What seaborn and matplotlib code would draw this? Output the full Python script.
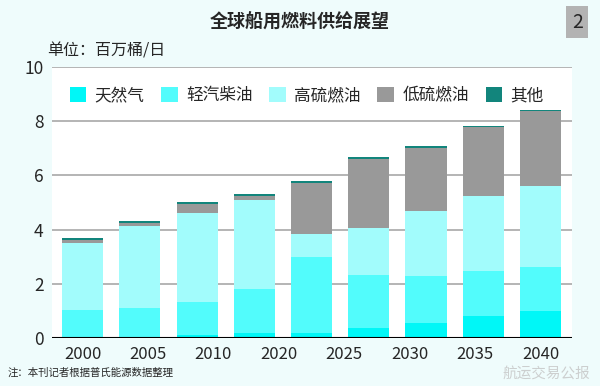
import numpy as np
import pandas as pd
import seaborn as sns
import matplotlib.pyplot as plt
from matplotlib.patches import Patch

# 9 bars in the source chart, 8 year labels spread evenly under them
bar_ids = list(range(9))
year_labels = ["2000", "2005", "2010", "2020", "2025", "2030", "2035", "2040"]

series = ["天然气", "轻汽柴油", "高硫燃油", "低硫燃油", "其他"]
lng = [0.0, 0.03, 0.12, 0.17, 0.18, 0.35, 0.54, 0.80, 0.98]
diesel = [1.02, 1.07, 1.19, 1.64, 2.82, 1.98, 1.74, 1.66, 1.65]
hsfo = [2.49, 3.05, 3.32, 3.27, 0.84, 1.72, 2.42, 2.78, 2.98]
lsfo = [0.10, 0.10, 0.32, 0.16, 1.89, 2.56, 2.30, 2.53, 2.75]
other = [0.07, 0.06, 0.07, 0.07, 0.07, 0.07, 0.07, 0.07, 0.07]
colors = ["#00f7f7", "#52fcfc", "#a2fcfc", "#999999", "#12857c"]

df = pd.DataFrame({"bar": bar_ids, "天然气": lng, "轻汽柴油": diesel,
                   "高硫燃油": hsfo, "低硫燃油": lsfo, "其他": other})
cum = df[series].cumsum(axis=1)

sns.set_style("white")
plt.rcParams['font.family'] = ['Noto Sans CJK SC', 'DejaVu Sans']

fig = plt.figure(figsize=(6, 3.86), dpi=100, facecolor="#effcfc")
ax = fig.add_axes([0.0867, 0.1244, 0.8667, 0.702])
ax.set_facecolor("white")

# stacked bars: draw cumulative totals from top layer down
for name, col in reversed(list(zip(series, colors))):
    sns.barplot(x=df["bar"], y=cum[name], color=col, width=0.72,
                saturation=1, linewidth=0, ax=ax, zorder=3)

ax.set_ylim(0, 10)
ax.set_xlim(-0.535, 8.55)
ax.set_yticks([0, 2, 4, 6, 8, 10])
ax.set_yticklabels(["0", "2", "4", "6", "8", "10"], fontsize=12.5)
ax.set_xticks(np.linspace(0, 8, len(year_labels)))
ax.set_xticklabels(year_labels, fontsize=12)
ax.set_xlabel("")
ax.set_ylabel("")
ax.tick_params(length=0, pad=6)
for y in [2, 4, 6, 8, 10]:
    ax.axhline(y, color="#a8a8a8", lw=1.2, zorder=1)
ax.axhline(0, color="black", lw=1.5, zorder=4)
sns.despine(ax=ax, left=True, bottom=True, right=True, top=True)

handles = [Patch(facecolor=c, edgecolor="none") for c in colors]
ax.legend(handles, series, loc="center left", bbox_to_anchor=(0.005, 0.895),
          ncol=5, frameon=False, fontsize=12, handlelength=1.0,
          handleheight=1.0, handletextpad=0.5, columnspacing=1.0)

fig.text(0.5, 0.943, "全球船用燃料供给展望", ha="center", va="center",
         fontsize=13, fontweight="bold")
fig.text(0.078, 0.868, "单位：百万桶/日", ha="left", va="center", fontsize=11.5)
fig.text(0.962, 0.943, "2", ha="center", va="center", fontsize=14,
         bbox=dict(boxstyle="square,pad=0.3", facecolor="#b3b3b3", edgecolor="none"))
fig.text(0.012, 0.035, "注：本刊记者根据普氏能源数据整理", ha="left", va="center",
         fontsize=7.5)
# faint watermark, lowered to sit just under the year labels
fig.text(0.91, 0.032, "航运交易公报", ha="center", va="center", fontsize=10.5,
         color="#c4c4c4", alpha=0.8)

fig.savefig("out.png", dpi=100, facecolor=fig.get_facecolor())
plt.close()
